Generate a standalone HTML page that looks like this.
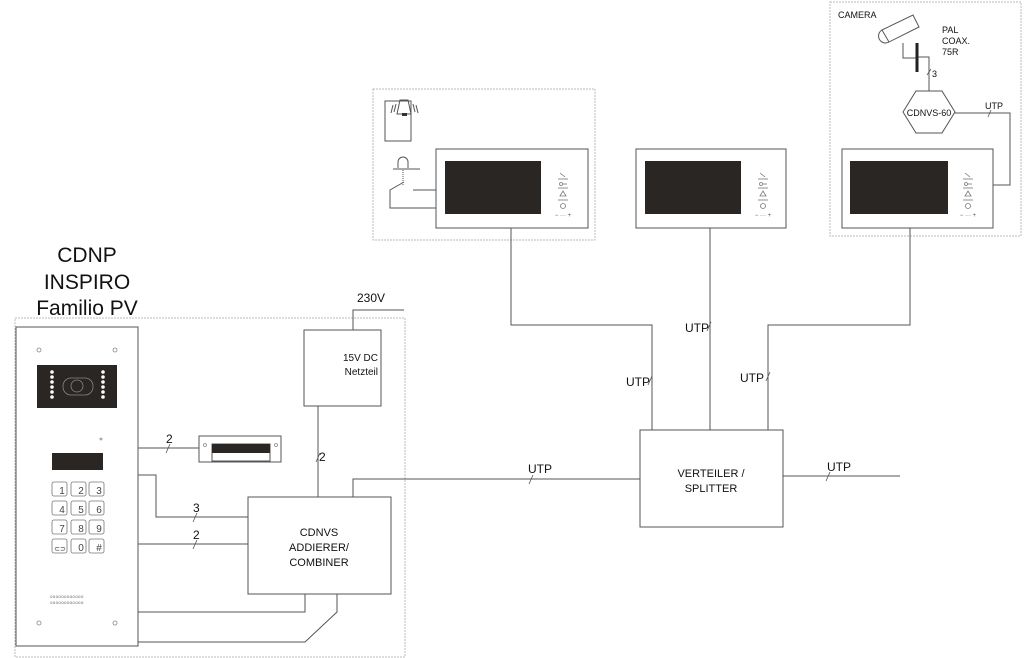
<!DOCTYPE html>
<html><head><meta charset="utf-8"><style>
body{margin:0;background:#fff;}
svg{display:block;font-family:"Liberation Sans",sans-serif;}
</style></head><body>
<svg width="1024" height="658" viewBox="0 0 1024 658" xmlns="http://www.w3.org/2000/svg">
<defs>
<g id="ctl" stroke="#777" fill="none" stroke-width="0.8">
  <path d="M-3,-44 l5,4"/><line x1="-5" y1="-38" x2="5" y2="-38"/>
  <circle cx="-2" cy="-33" r="1.5"/><line x1="0" y1="-33" x2="4" y2="-33"/>
  <line x1="-5" y1="-29" x2="5" y2="-29"/>
  <path d="M-3,-21 l3,-5 l3,5 z"/><line x1="-5" y1="-17" x2="5" y2="-17"/>
  <circle cx="0" cy="-11" r="2.5"/>
  <text x="0" y="0" font-size="6" fill="#555" stroke="none" text-anchor="middle">−  ···  +</text>
</g>
</defs>
<g fill="none" stroke="#bbb" stroke-width="1" stroke-dasharray="2,1">
<rect x="15" y="318" width="390" height="339"/>
<rect x="373" y="89" width="222" height="151"/>
<rect x="830" y="2" width="191" height="234"/>
</g>
<g font-size="21" fill="#111" text-anchor="middle">
<text x="87" y="262">CDNP</text><text x="87" y="289">INSPIRO</text><text x="87" y="315">Familio PV</text>
</g>
<g fill="none" stroke="#555" stroke-width="1">
<rect x="16" y="327" width="122" height="319"/>
<rect x="199" y="436" width="82" height="26"/>
<rect x="212" y="444" width="58" height="17"/>
<rect x="248" y="497" width="143" height="97"/>
<rect x="304" y="330" width="77" height="76"/>
<rect x="640" y="430" width="143" height="97"/>
<rect x="436" y="149" width="152" height="79"/>
<rect x="636" y="149" width="150" height="79"/>
<rect x="842" y="149" width="151" height="79"/>
<rect x="385" y="101" width="26" height="40"/>
<polyline points="138,448 199,448"/>
<polyline points="138,475 156,475 156,517 248,517"/>
<polyline points="138,544 248,544"/>
<polyline points="353,330 353,310 404,310"/>
<polyline points="318,406 318,497"/>
<polyline points="353,497 353,479 640,479"/>
<polyline points="138,612 305,612 305,594"/>
<polyline points="138,642 305,642 337,612 337,594"/>
<polyline points="783,476 900,476"/>
<polyline points="652,430 652,325 511,325 511,228"/>
<polyline points="710,430 710,228"/>
<polyline points="768,430 768,325 910,325 910,228"/>
<polyline points="954,113 1010,113 1010,185 993,185"/>
<polyline points="929,91 929,57 917,57"/>
<polyline points="903,43 903,58 917,58"/>
<polyline points="436,190 413,190"/>
<polyline points="436,208 390,208 390,190 404,182"/>
<line x1="393" y1="169" x2="420" y2="169"/>
<line x1="403" y1="170" x2="403" y2="185" stroke-dasharray="1,1"/>
<path d="M398,168 v-6 a5,5 0 0 1 10,0 v6"/>
<path d="M397,114 l3,-14 h8 l3,14 z"/>
<path d="M393,105 l-2,8 M396,104 l-2,8 M413,104 l2,8 M416,105 l2,8"/>
<polygon points="903,112 916,91 942,91 955,112 942,133 916,133"/>
<polygon points="882,30 913,15 919,27 889,42" />
<path d="M882,30 a6,6 0 0 0 7,12"/>
<g stroke="#555" stroke-width="0.8">
<line x1="166" y1="453" x2="170" y2="444"/><line x1="193" y1="522" x2="197" y2="513"/>
<line x1="193" y1="549" x2="197" y2="540"/><line x1="316" y1="462" x2="320" y2="453"/>
<line x1="529" y1="484" x2="533" y2="475"/><line x1="648" y1="385" x2="652" y2="376"/>
<line x1="707" y1="331" x2="711" y2="322"/><line x1="766" y1="381" x2="770" y2="372"/>
<line x1="826" y1="481" x2="830" y2="472"/><line x1="988" y1="117" x2="991" y2="110"/>
<line x1="927" y1="75" x2="931" y2="69"/>
</g>
</g>
<line x1="917" y1="43" x2="917" y2="72" stroke="#222" stroke-width="3"/>
<rect x="402" y="113" width="5" height="3" fill="#333"/>
<g fill="#2a2624">
<rect x="37" y="365" width="80" height="43"/>
<rect x="52" y="453" width="51" height="17"/>
<rect x="212" y="444" width="58" height="9"/>
<rect x="445" y="161" width="96" height="53"/>
<rect x="645" y="161" width="96" height="53"/>
<rect x="850" y="161" width="98" height="53"/>
</g>
<g fill="#fff">
<circle cx="52" cy="372" r="1.8"/><circle cx="52" cy="377" r="1.8"/><circle cx="52" cy="382" r="1.8"/><circle cx="52" cy="387" r="1.8"/><circle cx="52" cy="392" r="1.8"/><circle cx="52" cy="397" r="1.8"/>
<circle cx="103" cy="372" r="1.8"/><circle cx="103" cy="377" r="1.8"/><circle cx="103" cy="382" r="1.8"/><circle cx="103" cy="387" r="1.8"/><circle cx="103" cy="392" r="1.8"/><circle cx="103" cy="397" r="1.8"/>
</g>
<g fill="none" stroke="#888" stroke-width="0.8">
<rect x="63" y="378" width="30" height="17" rx="8"/><circle cx="77" cy="386" r="6"/>
<circle cx="39" cy="350" r="2"/><circle cx="115" cy="350" r="2"/><circle cx="39" cy="623" r="2"/><circle cx="115" cy="623" r="2"/>
<circle cx="101" cy="439" r="1"/>
<circle cx="205" cy="445" r="1.5"/><circle cx="276" cy="445" r="1.5"/>
</g>
<g fill="#fff" stroke="#777" stroke-width="0.8">
<rect x="52" y="482" width="15" height="14" rx="2"/><rect x="71" y="482" width="15" height="14" rx="2"/><rect x="89" y="482" width="15" height="14" rx="2"/>
<rect x="52" y="501" width="15" height="14" rx="2"/><rect x="71" y="501" width="15" height="14" rx="2"/><rect x="89" y="501" width="15" height="14" rx="2"/>
<rect x="52" y="520" width="15" height="14" rx="2"/><rect x="71" y="520" width="15" height="14" rx="2"/><rect x="89" y="520" width="15" height="14" rx="2"/>
<rect x="52" y="539" width="15" height="14" rx="2"/><rect x="71" y="539" width="15" height="14" rx="2"/><rect x="89" y="539" width="15" height="14" rx="2"/>
</g>
<g font-size="10" fill="#444" text-anchor="middle">
<text x="62" y="494">1</text><text x="81" y="494">2</text><text x="99" y="494">3</text>
<text x="62" y="513">4</text><text x="81" y="513">5</text><text x="99" y="513">6</text>
<text x="62" y="532">7</text><text x="81" y="532">8</text><text x="99" y="532">9</text>
<text x="60" y="551" font-size="7">⊂⊃</text><text x="81" y="551">0</text><text x="99" y="551">#</text>
</g>
<g font-size="4.5" fill="#666"><text x="50" y="598" letter-spacing="0.3">oooooooooooo</text><text x="50" y="604" letter-spacing="0.3">oooooooooooo</text></g>
<use href="#ctl" x="563" y="217"/><use href="#ctl" x="763" y="217"/><use href="#ctl" x="968" y="217"/>
<g font-size="12" fill="#111">
<text x="166" y="443">2</text><text x="193" y="512">3</text><text x="193" y="539">2</text>
<text x="319" y="461">2</text><text x="357" y="302">230V</text>
<text x="528" y="473">UTP</text><text x="626" y="386">UTP</text><text x="685" y="332">UTP</text>
<text x="740" y="382">UTP</text><text x="827" y="471">UTP</text>
</g>
<g font-size="11" fill="#111" text-anchor="middle">
<text x="319" y="536">CDNVS</text><text x="319" y="551">ADDIERER/</text><text x="319" y="566">COMBINER</text>
<text x="711" y="477">VERTEILER /</text><text x="711" y="492">SPLITTER</text>
</g>
<g font-size="10" fill="#111" text-anchor="end"><text x="378" y="361">15V DC</text><text x="378" y="375">Netzteil</text></g>
<g font-size="9" fill="#111">
<text x="838" y="18">CAMERA</text><text x="942" y="33">PAL</text><text x="942" y="44">COAX.</text><text x="942" y="55">75R</text>
<text x="932" y="77">3</text><text x="985" y="109">UTP</text>
<text x="929" y="116" text-anchor="middle">CDNVS-60</text>
</g>
</svg>
</body></html>
